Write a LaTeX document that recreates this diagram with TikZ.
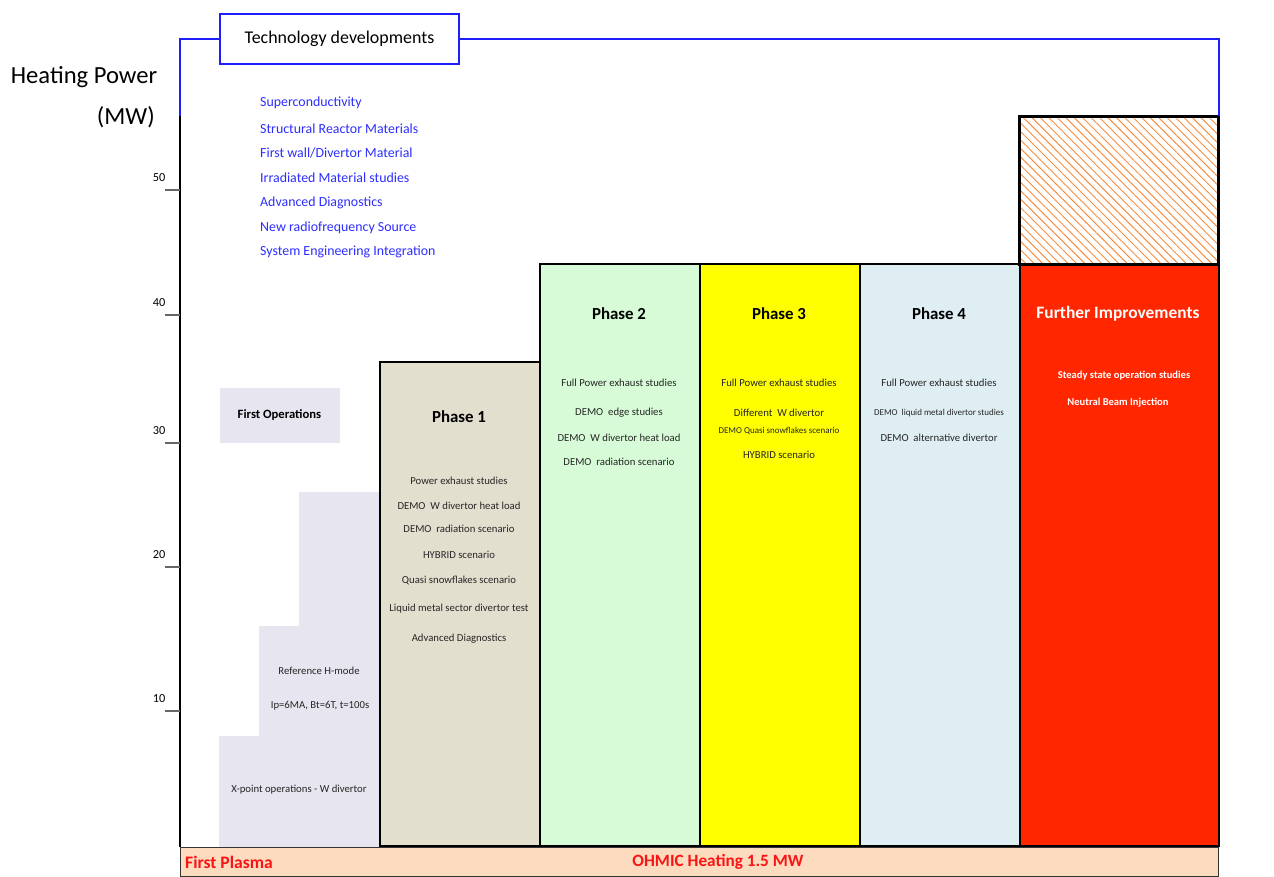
\documentclass[tikz,border=0pt]{standalone}
\usepackage{fontspec}
\setmainfont{Carlito}
\usetikzlibrary{patterns.meta}
\usepackage{xcolor}
\definecolor{techblue}{RGB}{30,30,250}
\definecolor{listblue}{RGB}{45,45,255}
\definecolor{stairgray}{RGB}{231,229,239}
\definecolor{phaseone}{RGB}{227,223,207}
\definecolor{phasetwo}{RGB}{214,251,214}
\definecolor{phasethree}{RGB}{255,255,0}
\definecolor{phasefour}{RGB}{222,238,243}
\definecolor{furtherred}{RGB}{255,38,0}
\definecolor{hatchorange}{RGB}{250,140,60}
\definecolor{ohmicpeach}{RGB}{252,219,191}
\definecolor{plasmared}{RGB}{250,20,20}
\tikzset{
  colbox/.style    = {rectangle, draw=black, line width=1.3pt, anchor=south west,
                      minimum width=32mm, inner sep=0pt},
  phasetitle/.style= {font=\bfseries\fontsize{9.6}{11}\selectfont},
  phaseitem/.style = {font=\fontsize{6.1}{7}\selectfont, text=black!85},
  tinyitem/.style  = {font=\fontsize{5.1}{6}\selectfont, text=black!85},
  whiteitem/.style = {font=\bfseries\fontsize{6}{7}\selectfont, text=white},
  techitem/.style  = {anchor=west, font=\fontsize{7.9}{9}\selectfont, text=listblue},
  techline/.style  = {draw=techblue, line width=1.1pt},
  ticklabel/.style = {font=\fontsize{7}{8}\selectfont},
}
\begin{document}
\begin{tikzpicture}[x=0.2mm, y=-0.2mm]
  \useasboundingbox (0,0) rectangle (1274,877);

  % staircase of first operations
  \fill[stairgray] (219,847) -- (219,736) -- (259,736) -- (259,626) -- (299,626)
    -- (299,492) -- (379,492) -- (379,847) -- cycle;
  \node[fill=stairgray, minimum width=24mm, minimum height=11mm, inner sep=0pt,
        font=\bfseries\fontsize{7.2}{8}\selectfont] (firstops) at (279.5,415.5) {First Operations};
  \node[phaseitem] (hmode) at (319,671) {Reference H-mode};
  \node[phaseitem] (ipbt) at (320,706) {Ip=6MA, Bt=6T, t=100s};
  \node[phaseitem] (xpoint) at (299,790) {X-point operations - W divertor};

  % phase columns
  \node[colbox, fill=phaseone, minimum height=96.8mm] (ph1) at (379,847) {};
  \node[colbox, fill=phasetwo, minimum height=116.4mm] (ph2) at (539,847) {};
  \node[colbox, fill=phasethree, minimum height=116.4mm] (ph3) at (699,847) {};
  \node[colbox, fill=phasefour, minimum height=116.4mm] (ph4) at (859,847) {};
  \node[colbox, fill=furtherred, minimum width=39.8mm, minimum height=116.4mm] (further) at (1019,847) {};
  \node[colbox, minimum width=39.8mm, minimum height=29.6mm,
        pattern={Lines[angle=-45,distance=3.4pt,line width=0.55pt]}, pattern color=hatchorange] (hatch) at (1019,265) {};

  % phase 1
  \node[phasetitle] (ph1t) at (459,417) {Phase 1};
  \node[phaseitem] (ph1a) at (459,481) {Power exhaust studies};
  \node[phaseitem] (ph1b) at (459,506) {DEMO\ \ W divertor heat load};
  \node[phaseitem] (ph1c) at (459,529) {DEMO\ \ radiation scenario};
  \node[phaseitem] (ph1d) at (459,555) {HYBRID scenario};
  \node[phaseitem] (ph1e) at (459,580) {Quasi snowflakes scenario};
  \node[phaseitem] (ph1f) at (459,609) {Liquid metal sector divertor test};
  \node[phaseitem] (ph1g) at (459,639) {Advanced Diagnostics};

  % phase 2
  \node[phasetitle] (ph2t) at (619,314) {Phase 2};
  \node[phaseitem] (ph2a) at (619,383) {Full Power exhaust studies};
  \node[phaseitem] (ph2b) at (619,413) {DEMO\ \ edge studies};
  \node[phaseitem] (ph2c) at (619,438) {DEMO\ \ W divertor heat load};
  \node[phaseitem] (ph2d) at (619,462) {DEMO\ \ radiation scenario};

  % phase 3
  \node[phasetitle] (ph3t) at (779,314) {Phase 3};
  \node[phaseitem] (ph3a) at (779,383) {Full Power exhaust studies};
  \node[phaseitem] (ph3b) at (779,413) {Different\ \ W divertor};
  \node[tinyitem] (ph3c) at (779,431) {DEMO Quasi snowflakes scenario};
  \node[phaseitem] (ph3d) at (779,455) {HYBRID scenario};

  % phase 4
  \node[phasetitle] (ph4t) at (939,314) {Phase 4};
  \node[phaseitem] (ph4a) at (939,383) {Full Power exhaust studies};
  \node[tinyitem] (ph4b) at (939,413) {DEMO\ \ liquid metal divertor studies};
  \node[phaseitem] (ph4c) at (939,438) {DEMO\ \ alternative divertor};

  % further improvements
  \node[phasetitle, text=white, font=\bfseries\fontsize{9.9}{11}\selectfont] (furthert) at (1118,314) {Further Improvements};
  \node[whiteitem] (furthera) at (1124,376) {Steady state operation studies};
  \node[whiteitem] (furtherb) at (1118,403) {Neutral Beam Injection};

  % ohmic heating bar
  \node[rectangle, draw=black!80, line width=0.7pt, fill=ohmicpeach, anchor=north west,
        minimum width=207.6mm, minimum height=5.8mm, inner sep=0pt] (ohmic) at (180,847) {};
  \node[anchor=west, text=plasmared, font=\bfseries\fontsize{10}{12}\selectfont] (plasma) at (179,862) {First Plasma};
  \node[text=plasmared, font=\bfseries\fontsize{9.8}{12}\selectfont] (ohmict) at (718,862) {OHMIC Heating 1.5 MW};

  % axis
  \coordinate (axtop) at (180,116);
  \coordinate (axbot) at (180,847);
  \draw[line width=1.3pt] (axtop) -- (axbot);
  \foreach \v/\y in {50/190,40/315,30/443,20/567,10/711}{
    \coordinate (tick\v) at (180,\y);
    \draw[black!60, line width=0.8pt] (tick\v) -- ++(-15,0);
    \node[ticklabel] (lab\v) at (159,\y-12) {\v};
  }
  \node[font=\fontsize{14}{16}\selectfont] (heat) at (84,77) {Heating Power};
  \node[anchor=east, font=\fontsize{14}{16}\selectfont] (mw) at (161,117) {(MW)};

  % technology developments
  \node[rectangle, draw=techblue, line width=1.1pt, fill=white, minimum width=47.8mm,
        minimum height=10mm, font=\fontsize{10.2}{12}\selectfont] (tech) at (339.5,39) {Technology developments};
  \draw[techline] (axtop) |- (tech.west);
  \draw[techline] (tech.east) -| (hatch.north east);
  \node[techitem] (t1) at (254,103) {Superconductivity};
  \node[techitem] (t2) at (254,129) {Structural Reactor Materials};
  \node[techitem] (t3) at (254,153) {First wall/Divertor Material};
  \node[techitem] (t4) at (254,178) {Irradiated Material studies};
  \node[techitem] (t5) at (254,203) {Advanced Diagnostics};
  \node[techitem] (t6) at (254,228) {New radiofrequency Source};
  \node[techitem] (t7) at (254,252) {System Engineering Integration};
\end{tikzpicture}
\end{document}
